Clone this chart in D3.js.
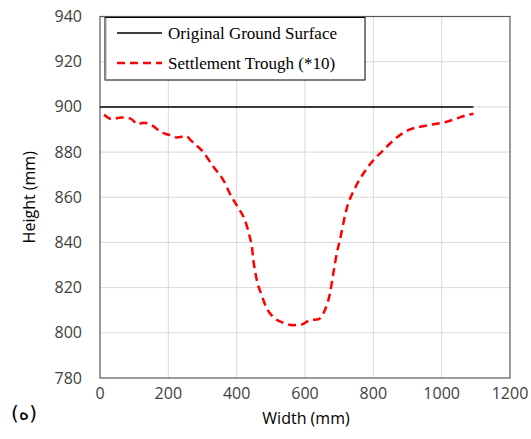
<!DOCTYPE html>
<html lang="en">
<head>
<meta charset="UTF-8">
<title>Settlement Trough</title>
<script src="https://d3js.org/d3.v7.min.js"></script>
<style>
    body { margin: 0; background: #fff; }
    svg { display: block; }
    .tick-label { font-family: "Open Sans", sans-serif; font-size: 16px; fill: #404040; }
    .axis-title { font-family: "Open Sans", sans-serif; font-size: 16px; fill: #000; }
    .legend-text { font-family: "Liberation Serif", serif; font-size: 17px; fill: #000; }
    .grid line { stroke: #d9d9d9; stroke-width: 1; }
</style>
</head>
<body>
<svg id="chart" width="531" height="439"></svg>
<script>
    // Ground surface line
    const groundX = [0, 1093];
    const groundY = [900, 900];

    // Settlement trough
    const troughX = [12, 34, 63, 88, 112, 127, 156, 176, 205, 224, 254, 263, 302, 332, 361, 385, 400, 429, 439, 444,
                     449, 459, 473, 488, 507, 537, 566, 590, 615, 639, 658, 673, 683, 693, 702, 722, 746, 771, 800,
                     829, 849, 878, 907, 937, 976, 1015, 1044, 1073, 1093];
    const troughY = [896.5, 894.6, 895.3, 894.9, 892.3, 893, 891.5, 889, 887.5, 886.5, 887, 885.6, 880, 873.5, 867.6, 860.2, 856.5, 847.7, 842, 838.8,
                     832, 823.3, 816.7, 810.8, 807, 804.4, 803.4, 803.7, 805.6, 806, 810, 817.4, 826.3, 835.2, 841, 855, 863.9, 870.5, 876.4,
                     880.8, 883.8, 887.5, 890, 891.2, 892.3, 893.4, 894.9, 896.3, 897];

    const xTicks = [0, 200, 400, 600, 800, 1000, 1200];
    const yTicks = [780, 800, 820, 840, 860, 880, 900, 920, 940];

    const seriesNames = ["Original Ground Surface", "Settlement Trough (*10)"];

    const svg = d3.select("#chart");
    const margin = { left: 100, top: 16.5, right: 21, bottom: 61 };
    const width = 531 - margin.left - margin.right;
    const height = 439 - margin.top - margin.bottom;

    const x = d3.scaleLinear().domain([0, 1200]).range([margin.left, margin.left + width]);
    const y = d3.scaleLinear().domain([780, 940]).range([margin.top + height, margin.top]);

    // gridlines
    const grid = svg.append("g").attr("class", "grid");
    grid.selectAll(".gx").data(xTicks.slice(1, -1)).enter().append("line")
        .attr("x1", d => x(d)).attr("x2", d => x(d))
        .attr("y1", y(780)).attr("y2", y(940));
    grid.selectAll(".gy").data(yTicks.slice(1, -1)).enter().append("line")
        .attr("x1", x(0)).attr("x2", x(1200))
        .attr("y1", d => y(d)).attr("y2", d => y(d));

    // plot border
    svg.append("rect")
        .attr("x", x(0)).attr("y", y(940))
        .attr("width", x(1200) - x(0)).attr("height", y(780) - y(940))
        .attr("fill", "none").attr("stroke", "#595959").attr("stroke-width", 1.2);

    // tick labels
    svg.selectAll(".xt").data(xTicks).enter().append("text")
        .attr("class", "tick-label")
        .attr("x", d => x(d)).attr("y", 399)
        .attr("text-anchor", "middle")
        .text(d => d);

    svg.selectAll(".yt").data(yTicks).enter().append("text")
        .attr("class", "tick-label")
        .attr("x", 82).attr("y", d => y(d) + 5.5)
        .attr("text-anchor", "end")
        .text(d => d);

    // axis titles
    svg.append("text").attr("class", "axis-title")
        .attr("x", 306).attr("y", 424)
        .attr("text-anchor", "middle")
        .text("Width (mm)");

    svg.append("text").attr("class", "axis-title")
        .attr("transform", `translate(35,${(y(780) + y(940)) / 2}) rotate(-90)`)
        .attr("text-anchor", "middle")
        .text("Height (mm)");

    svg.append("text")
        .attr("x", 24).attr("y", 420)
        .attr("text-anchor", "middle")
        .style("font-family", "DejaVu Sans, sans-serif")
        .style("font-size", "20px")
        .text("(ه)");

    // lines
    const line = d3.line().x(d => x(d[0])).y(d => y(d[1]));

    svg.append("path")
        .datum(groundX.map((v, i) => [v, groundY[i]]))
        .attr("d", line)
        .attr("fill", "none").attr("stroke", "#000").attr("stroke-width", 1.5);

    svg.append("path")
        .datum(troughX.map((v, i) => [v, troughY[i]]))
        .attr("d", line.curve(d3.curveMonotoneX))
        .attr("fill", "none").attr("stroke", "#ff0000").attr("stroke-width", 2.5)
        .attr("stroke-dasharray", "8,5");

    // legend
    const lg = svg.append("g");
    lg.append("rect")
        .attr("x", 105).attr("y", 17.5).attr("width", 260).attr("height", 62.5)
        .attr("fill", "#fff").attr("stroke", "#000").attr("stroke-width", 1);
    lg.append("line").attr("x1", 106).attr("x2", 106).attr("y1", 18).attr("y2", 80)
        .attr("stroke", "#a0a0a0").attr("stroke-width", 1);

    const items = [
        { name: seriesNames[0], color: "#000", dash: null, w: 1.5 },
        { name: seriesNames[1], color: "#ff0000", dash: "8,5", w: 2.5 }
    ];
    items.forEach((it, i) => {
        const cy = 33 + i * 30;
        lg.append("line")
            .attr("x1", 117).attr("x2", 162).attr("y1", cy).attr("y2", cy)
            .attr("stroke", it.color).attr("stroke-width", it.w)
            .attr("stroke-dasharray", it.dash);
        lg.append("text").attr("class", "legend-text")
            .attr("x", 168).attr("y", cy + 5.5)
            .text(it.name);
    });
</script>
</body>
</html>
